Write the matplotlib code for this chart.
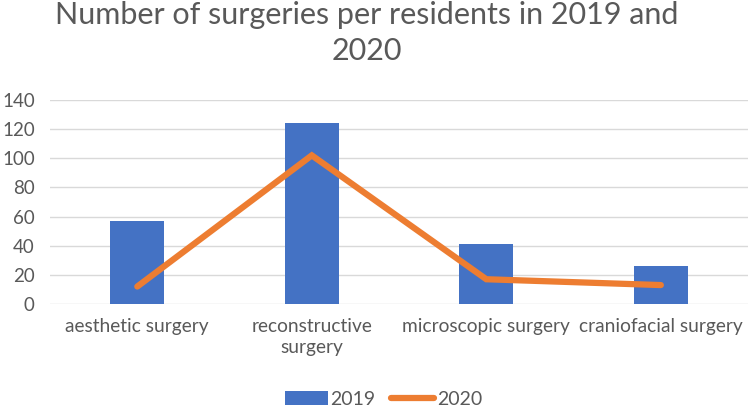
import numpy as np
import matplotlib.pyplot as plt

categories = ["aesthetic surgery", "reconstructive\nsurgery", "microscopic surgery", "craniofacial surgery"]
values_2019 = [57, 124, 41, 26]
values_2020 = [12, 102, 17, 13]
yticks = [0, 20, 40, 60, 80, 100, 120, 140]

plt.rcParams['font.family'] = ['Lato', 'DejaVu Sans']
text_color = '#595959'

fig = plt.figure(figsize=(7.49, 4.11), dpi=100)
ax = fig.add_axes([0.0668, 0.2603, 0.932, 0.4964])

x = np.arange(len(categories))
bars = ax.bar(x, values_2019, width=0.31, color='#4472C4', label='2019', zorder=2)
line, = ax.plot(x, values_2020, color='#ED7D31', linewidth=4.5, solid_capstyle='round',
                solid_joinstyle='miter', label='2020', zorder=3)

ax.set_xlim(-0.5, len(categories) - 0.5)
ax.set_ylim(0, 140)
ax.set_yticks(yticks)
ax.set_xticks(x)
ax.set_xticklabels(categories, fontsize=13.8, color=text_color, linespacing=1.3)
ax.tick_params(axis='y', labelsize=13.5, labelcolor=text_color, length=0, pad=11)
ax.tick_params(axis='x', length=0, pad=10)
ax.grid(axis='y', color='#D9D9D9', linewidth=1, zorder=0)
for s in ax.spines.values():
    s.set_visible(False)

fig.suptitle("Number of surgeries per residents in 2019 and\n2020", fontsize=22,
             color=text_color, x=0.49, y=0.997, linespacing=1.35)

fig.legend([bars, line], ['2019', '2020'], loc='lower center',
           bbox_to_anchor=(0.512, -0.035), ncol=2, frameon=False,
           fontsize=14, labelcolor=text_color, handlelength=2.2, columnspacing=0.8,
           handletextpad=0.15)

fig.savefig("out.png", dpi=100)
